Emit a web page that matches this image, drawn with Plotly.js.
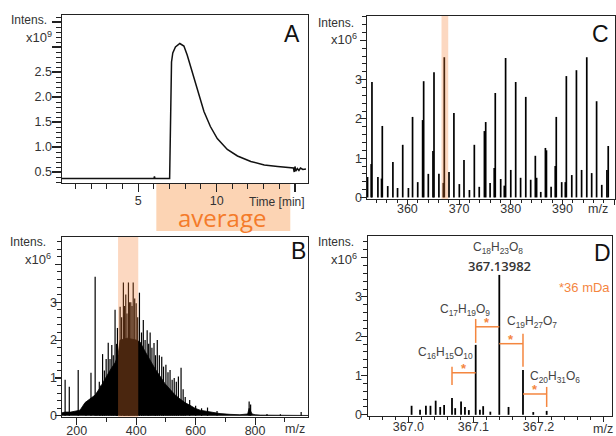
<!DOCTYPE html>
<html><head><meta charset="utf-8">
<script src="https://cdn.plot.ly/plotly-3.0.1.min.js"></script>
<style>html,body{margin:0;padding:0;background:#fff}#chart{width:616px;height:436px}</style>
</head><body><div id="chart"></div>
<script>
// ---------- Panel A: chromatogram (time in min, intensity x1e9) ----------
const timeMin = [0.13, 6.0, 6.03, 6.06, 7.0, 7.03, 7.07, 7.12, 7.2, 7.37, 7.65, 7.91, 8.12, 8.33, 8.76, 9.19, 9.6, 10.04, 10.68, 11.33, 12.18, 13.04, 13.89, 14.74, 14.9, 14.95, 15.0, 15.05, 15.15, 15.25, 15.35, 15.5, 15.7];
const intensA = [0.37, 0.37, 0.41, 0.37, 0.37, 1.3, 2.3, 2.7, 2.88, 3.0, 3.07, 3.02, 2.84, 2.61, 2.14, 1.71, 1.41, 1.17, 0.95, 0.82, 0.71, 0.64, 0.61, 0.59, 0.58, 0.5, 0.61, 0.52, 0.57, 0.53, 0.58, 0.55, 0.56];

// ---------- Panel B: full mass spectrum (m/z, intensity x1e6) ----------
const bEnvMz  = [150.5, 160, 180, 200, 211, 228, 245, 262, 279, 296, 312, 329, 339, 346, 370, 400, 413, 430, 447, 463, 480, 497, 514, 531, 547, 564, 581, 598, 615, 648, 682, 716, 749, 775, 780, 790, 800, 817, 860, 900, 978];
const bEnvInt = [0.08, 0.1, 0.1, 0.12, 0.15, 0.35, 0.45, 0.55, 0.75, 1.0, 1.2, 1.4, 1.6, 2.0, 2.05, 2.0, 1.95, 1.7, 1.45, 1.25, 1.05, 0.85, 0.7, 0.55, 0.45, 0.35, 0.28, 0.2, 0.15, 0.1, 0.06, 0.04, 0.03, 0.05, 0.2, 0.05, 0.03, 0.02, 0.02, 0.01, 0.01];
const bSpikeMz  = [161, 175, 205, 231, 248, 262, 268, 276, 281, 287, 293, 299, 306, 312, 318, 323, 329, 334, 337, 346, 351, 357, 361, 365, 369, 374, 378, 382, 386, 390, 395, 400, 405, 411, 418, 424, 430, 437, 442, 447, 453, 460, 465, 471, 478, 486, 492, 500, 507, 514, 521, 528, 535, 542, 551, 558, 565, 580, 600, 620, 640, 672, 780, 785, 840, 885, 955];
const bSpikeInt = [0.95, 0.77, 1.21, 0.34, 1.14, 3.67, 0.6, 0.9, 0.8, 1.63, 1.2, 1.5, 1.93, 1.5, 1.87, 1.6, 2.8, 1.9, 2.32, 2.88, 2.6, 3.52, 2.9, 3.2, 2.7, 3.52, 3.0, 3.0, 2.9, 3.52, 3.1, 2.97, 2.6, 3.25, 2.2, 2.53, 2.0, 2.26, 1.9, 2.2, 1.8, 1.92, 1.6, 2.0, 1.6, 1.56, 1.3, 1.35, 1.15, 1.21, 0.95, 1.0, 0.9, 1.04, 1.27, 0.7, 0.5, 0.42, 0.27, 0.2, 0.22, 0.13, 0.38, 0.3, 0.05, 0.04, 0.1];

// ---------- Panel C: zoom 352-400 (m/z, intensity x1e6) ----------
const cMz  = [352.3, 353.0, 353.15, 354.3, 355.0, 355.15, 356.2, 357.2, 358.1, 359.1, 360.2, 361.0, 362.0, 362.95, 363.15, 364.05, 364.95, 365.15, 366.1, 366.95, 367.14, 368.05, 369.0, 370.05, 370.95, 372.0, 372.95, 373.9, 374.9, 375.15, 376.0, 376.8, 377.0, 378.05, 378.75, 379.0, 380.0, 380.95, 381.9, 382.9, 383.85, 384.75, 385.0, 385.8, 386.7, 386.9, 387.8, 388.6, 388.8, 389.85, 390.55, 390.75, 391.8, 392.7, 393.7, 394.7, 395.65, 396.6, 397.6, 398.6, 398.85];
const cInt = [0.52, 0.85, 2.94, 0.52, 0.48, 1.82, 0.29, 0.9, 0.24, 1.34, 0.24, 2.05, 0.39, 1.97, 2.96, 0.6, 1.18, 3.19, 0.6, 0.37, 3.57, 0.65, 2.15, 0.34, 0.95, 0.19, 1.34, 0.27, 1.69, 1.92, 0.37, 0.75, 2.66, 0.47, 0.3, 3.55, 0.7, 2.94, 0.5, 2.56, 0.45, 1.06, 0.5, 0.14, 1.26, 1.2, 0.27, 0.8, 2.05, 0.39, 0.39, 3.09, 0.57, 3.24, 0.7, 3.57, 0.62, 2.45, 0.32, 0.7, 1.31];

// ---------- Panel D: nominal mass 367 (m/z, intensity x1e6) ----------
const dMz  = [367.005, 367.018, 367.027, 367.034, 367.042, 367.049, 367.055, 367.0671, 367.072, 367.081, 367.087, 367.093, 367.1035, 367.110, 367.115, 367.126, 367.1398, 367.154, 367.1762, 367.192, 367.2126];
const dInt = [0.23, 0.13, 0.23, 0.23, 0.36, 0.2, 0.25, 0.43, 0.17, 0.34, 0.2, 0.12, 1.78, 0.13, 0.22, 0.08, 3.56, 0.2, 1.14, 0.07, 0.1];
const formulaMz = [367.0671, 367.1035, 367.1398, 367.1762, 367.2126];
const formulaText = ['C<sub>16</sub>H<sub>15</sub>O<sub>10</sub>', 'C<sub>17</sub>H<sub>19</sub>O<sub>9</sub>', 'C<sub>18</sub>H<sub>23</sub>O<sub>8</sub>', 'C<sub>19</sub>H<sub>27</sub>O<sub>7</sub>', 'C<sub>20</sub>H<sub>31</sub>O<sub>6</sub>'];
const bracketLevel = [1.07, 2.24, 1.81, 0.53];
const bracketTickLo = [0.76, 1.83, 1.22, 0.2];
const bracketTickHi = [1.22, 2.44, 2.06, 0.71];

// tick labels
const aTimeTicks = [5, 10];
const aIntTicks = [0.5, 1.0, 1.5, 2.0, 2.5];
const cMzTicks = [360, 370, 380, 390];
const bMzTicks = [200, 400, 600, 800];
const dMzTicks = [367.0, 367.1, 367.2];
const msIntTicks = [0, 1, 2, 3];

const W = 616, H = 436;
const px = x => x / W, py = y => 1 - y / H;

function stems(xs, ys) {
  const X = [], Y = [];
  xs.forEach((m, i) => { X.push(m, m, null); Y.push(0, ys[i], null); });
  return {x: X, y: Y};
}

const ORANGE = '#f4863f';
const LINE = '#222';
const traces = [];
traces.push({type:'scatter', mode:'lines', x: timeMin, y: intensA, xaxis:'x', yaxis:'y', line:{color:'#111', width:1.5}});
const cs = stems(cMz, cInt);
traces.push({type:'scatter', mode:'lines', x: cs.x, y: cs.y, xaxis:'x2', yaxis:'y2', line:{color:'#000', width:1.7}});
traces.push({type:'scatter', mode:'lines', x: bEnvMz, y: bEnvInt, xaxis:'x3', yaxis:'y3', fill:'tozeroy', fillcolor:'#000', line:{color:'#000', width:0.8}});
const bs = stems(bSpikeMz, bSpikeInt);
traces.push({type:'scatter', mode:'lines', x: bs.x, y: bs.y, xaxis:'x3', yaxis:'y3', line:{color:'#000', width:1.2}});
const ds = stems(dMz, dInt);
traces.push({type:'scatter', mode:'lines', x: ds.x, y: ds.y, xaxis:'x4', yaxis:'y4', line:{color:'#000', width:1.8}});
const brX = [], brY = [];
for (let i = 0; i < 4; i++) {
  const a = formulaMz[i], b = formulaMz[i + 1];
  const v = i < 2 ? a : b;
  brX.push(a, b, null, v, v, null);
  brY.push(bracketLevel[i], bracketLevel[i], null, bracketTickLo[i], bracketTickHi[i], null);
}
traces.push({type:'scatter', mode:'lines', x: brX, y: brY, xaxis:'x4', yaxis:'y4', line:{color:ORANGE, width:1.5}});

const tickFont = {family:'Liberation Sans, Arial, sans-serif', size:12.5, color:'#333'};
const layout = {
  width: W, height: H, margin:{l:0, r:0, t:0, b:0}, showlegend:false,
  paper_bgcolor:'#fff', plot_bgcolor:'rgba(0,0,0,0)',
  font:{family:'Liberation Sans, Arial, sans-serif', color:'#333'},
  shapes: [], annotations: []
};
const plain = {showgrid:false, zeroline:false};
let nextId = 5;
function axisName(letter, n) { return letter + 'axis' + (n === 1 ? '' : n); }
function axisRef(letter, n) { return letter + (n === 1 ? '' : n); }
// base axis (frame + minor ticks) plus overlays for major ticks and for labels
function buildAxis(letter, n, o) {
  const other = letter === 'x' ? 'y' : 'x';
  const side = letter === 'x' ? 'bottom' : 'left';
  layout[axisName(letter, n)] = Object.assign({domain:o.domain, anchor:axisRef(other, n), range:o.range,
    showline:true, mirror:true, linecolor:LINE, linewidth:1.2,
    ticks:'outside', ticklen:o.minorLen, tickwidth:1, tickcolor:LINE, tickmode:'linear', tick0:o.minorTick0, dtick:o.minorDtick,
    showticklabels:false}, plain);
  const major = nextId++, lab = nextId++;
  layout[axisName(letter, major)] = Object.assign({overlaying:axisRef(letter, n), anchor:axisRef(other, n), side:side, range:o.range,
    showline:false, ticks:'outside', ticklen:o.majorLen, tickwidth:1.1, tickcolor:LINE, tickmode:'linear', tick0:o.majorTick0, dtick:o.majorDtick,
    showticklabels:false}, plain);
  layout[axisName(letter, lab)] = Object.assign({overlaying:axisRef(letter, n), anchor:axisRef(other, n), side:side, range:o.range,
    showline:false, ticks:'', tickmode:'array', tickvals:o.labelVals, ticktext:o.labelText || o.labelVals.map(String),
    tickfont:tickFont, ticklabelstandoff:o.standoff}, plain);
  [major, lab].forEach(k => {
    const t = {type:'scatter', mode:'lines', x:[], y:[], showlegend:false};
    t[letter + 'axis'] = axisRef(letter, k); t[other + 'axis'] = axisRef(other, n);
    traces.push(t);
  });
}
// Panel A
buildAxis('x', 1, {domain:[px(62), px(308)], range:[0.13, 15.83], minorDtick:1, minorTick0:0, minorLen:5, majorDtick:5, majorTick0:0, majorLen:8, labelVals:aTimeTicks, standoff:8});
buildAxis('y', 1, {domain:[py(183), py(15)], range:[0.28, 3.64], minorDtick:0.1, minorTick0:0, minorLen:5, majorDtick:0.5, majorTick0:0, majorLen:9, labelVals:aIntTicks, labelText:aIntTicks.map(v => v.toFixed(1)), standoff:9});
// Panel C
buildAxis('x', 2, {domain:[px(367), px(615)], range:[352.19, 400.16], minorDtick:2, minorTick0:0, minorLen:3, majorDtick:10, majorTick0:0, majorLen:5, labelVals:cMzTicks, standoff:0});
buildAxis('y', 2, {domain:[py(199), py(16)], range:[-0.04, 4.62], minorDtick:0.2, minorTick0:0, minorLen:3.5, majorDtick:1, majorTick0:0, majorLen:6.5, labelVals:msIntTicks, standoff:4});
// Panel B
buildAxis('x', 3, {domain:[px(62), px(308)], range:[150.5, 978], minorDtick:100, minorTick0:0, minorLen:4, majorDtick:200, majorTick0:0, majorLen:6.5, labelVals:bMzTicks, standoff:4});
buildAxis('y', 3, {domain:[py(417), py(237)], range:[-0.03, 4.72], minorDtick:0.2, minorTick0:0, minorLen:3.5, majorDtick:1, majorTick0:0, majorLen:6.5, labelVals:msIntTicks, standoff:4});
// Panel D
buildAxis('x', 4, {domain:[px(368), px(612)], range:[366.938, 367.313], minorDtick:0.02, minorTick0:367, minorLen:3, majorDtick:0.1, majorTick0:367, majorLen:5, labelVals:dMzTicks, labelText:dMzTicks.map(v => v.toFixed(1)), standoff:1});
buildAxis('y', 4, {domain:[py(416), py(236)], range:[-0.03, 4.55], minorDtick:0.2, minorTick0:0, minorLen:3.5, majorDtick:1, majorTick0:0, majorLen:6.5, labelVals:msIntTicks, standoff:5});

layout.shapes.push(
  {type:'rect', xref:'x', yref:'paper', x0:6.15, x1:14.7, y0:py(231), y1:py(184), fillcolor:'#fcd4b4', line:{width:0}, layer:'below'},
  {type:'rect', xref:'x3', yref:'y3 domain', x0:339, x1:407, y0:0, y1:1, fillcolor:'rgba(245,125,50,0.3)', line:{width:0}, layer:'above'},
  {type:'rect', xref:'x2', yref:'y2 domain', x0:366.6, x1:367.9, y0:0, y1:1, fillcolor:'rgba(245,125,50,0.3)', line:{width:0}, layer:'above'}
);

function note(text, x, y, opts) {
  layout.annotations.push(Object.assign({text:text, xref:'paper', yref:'paper', x:px(x), y:py(y), showarrow:false, xanchor:'center', yanchor:'middle', font:{family:'Liberation Sans, Arial, sans-serif', size:12, color:'#333'}}, opts || {}));
}
const letterFont = {family:'Liberation Sans, Arial, sans-serif', size:23, color:'#111'};
note('A', 292, 34, {font:letterFont});
note('C', 600, 34, {font:letterFont});
note('B', 298, 251, {font:letterFont});
note('D', 602, 253, {font:letterFont});
[[49,20,54,37,'9'],[48,242,53,259,'6'],[356,23,359,39,'6'],[356,242,359,259,'6']].forEach(a => {
  note('Intens.', a[0], a[1], {xanchor:'right', font:{family:'Liberation Sans, Arial, sans-serif', size:12, color:'#333'}});
  note('x10<sup>' + a[4] + '</sup>', a[2], a[3], {xanchor:'right', font:{family:'Liberation Sans, Arial, sans-serif', size:13, color:'#333'}});
});
note('Time [min]', 277, 202, {font:{family:'Liberation Sans, Arial, sans-serif', size:12, color:'#333'}});
note('m/z', 598, 209, {font:tickFont});
note('m/z', 295, 429, {font:tickFont});
note('m/z', 603, 429, {font:tickFont});
note('average', 222, 217, {font:{family:'Open Sans, sans-serif', size:24, color:'#f47b2a'}});
const fFont = {family:'Liberation Sans, Arial, sans-serif', size:12, color:'#444'};
note(formulaText[0], 445, 353, {font:fFont});
note(formulaText[1], 465, 310, {font:fFont});
note(formulaText[2], 498, 248, {font:fFont});
note('367.13982', 499, 266, {font:{family:'Open Sans, sans-serif', size:13, color:'#333', weight:600}});
note(formulaText[3], 532, 322, {font:fFont});
note(formulaText[4], 555, 377, {font:fFont});
note('*36 mDa', 584, 287, {font:{family:'Liberation Sans, Arial, sans-serif', size:13, color:ORANGE}});
for (let i = 0; i < 4; i++) {
  layout.annotations.push({text:'*', xref:'x4', yref:'y4', x:(formulaMz[i] + formulaMz[i+1]) / 2, y:bracketLevel[i], yshift:4, showarrow:false, xanchor:'center', yanchor:'middle', font:{family:'Liberation Sans, Arial, sans-serif', size:13, color:ORANGE, weight:700}});
}

Plotly.newPlot('chart', traces, layout, {staticPlot:true, displayModeBar:false});
</script>
</body></html>
